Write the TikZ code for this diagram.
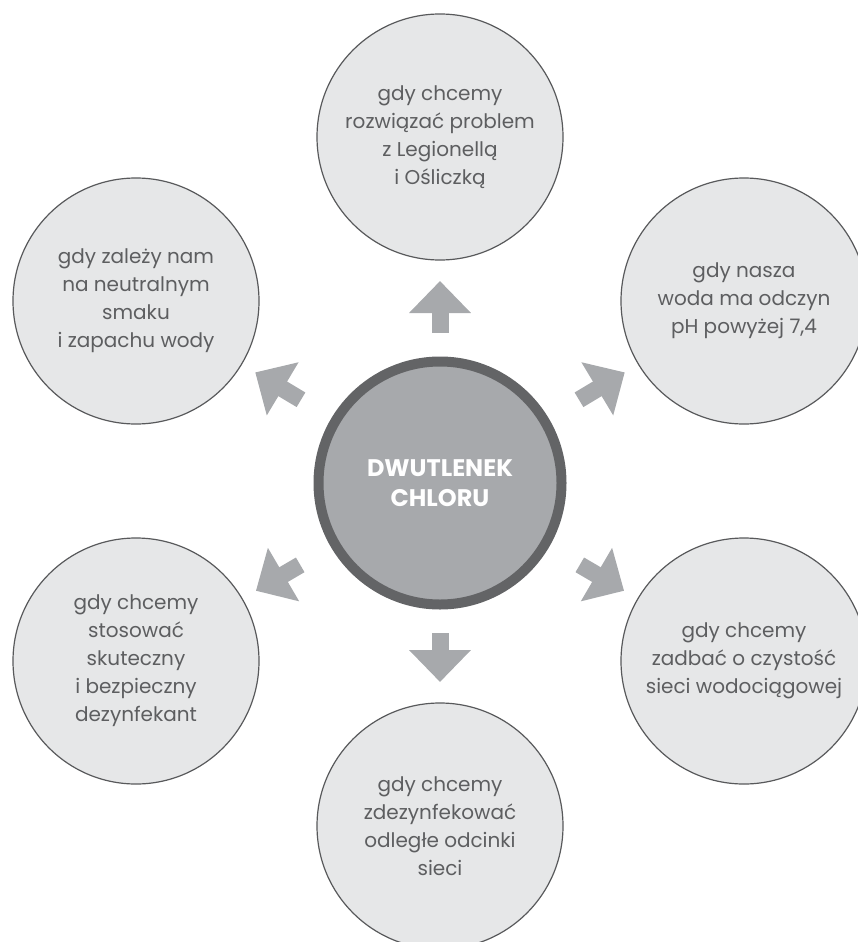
\documentclass[tikz,border=0pt]{standalone}
\usepackage{fontspec}
\setmainfont{Poppins}
\usetikzlibrary{arrows.meta}

\definecolor{leafgray}{HTML}{E6E7E8}
\definecolor{rimgray}{HTML}{58595B}
\definecolor{pointgray}{HTML}{A7A9AC}
\definecolor{ringgray}{HTML}{636466}
\definecolor{inkgray}{HTML}{5D5E60}

\tikzset{
	leaf/.style={circle, minimum size=246pt, inner sep=0pt, fill=leafgray, draw=rimgray, line width=1.2pt, align=center, text=inkgray, font=\fontsize{20}{28}\selectfont},
	hub/.style={circle, minimum size=243pt, inner sep=0pt, fill=pointgray, draw=ringgray, line width=10pt, align=center, text=white, font=\bfseries\fontsize{24}{30}\selectfont},
	pointer/.style={pointgray, line width=17pt, -{Triangle[length=32pt,width=60pt]}},
}

\begin{document}
\begin{tikzpicture}[x=1pt,y=-1pt]
		\useasboundingbox (0,0) rectangle (857,942);
		\node[hub] (chlor) at (440,483) {DWUTLENEK\\CHLORU};
		\node[leaf] (legion) at (440,137) {gdy chcemy\\rozwiązać problem\\z Legionellą\\i Ośliczką};
		\node[leaf] (smak) at (136,301) {gdy zależy nam\\na neutralnym\\smaku\\i zapachu wody};
		\node[leaf] (odczyn) at (744,301) {gdy nasza\\woda ma odczyn\\pH powyżej 7,4};
		\node[leaf] (dezyn) at (136,661) {gdy chcemy\\stosować\\skuteczny\\i bezpieczny\\dezynfekant};
		\node[leaf] (czystosc) at (744,661) {gdy chcemy\\zadbać o czystość\\sieci wodociągowej};
		\node[leaf] (odcinki) at (440,826) {gdy chcemy\\zdezynfekować\\odległe odcinki\\sieci};
		% strzalki od srodka
		\draw[pointer, shorten <=150pt, shorten >=144pt] (chlor.center) -- (legion.center);
		\draw[pointer, shorten <=150pt, shorten >=144pt] (chlor.center) -- (odcinki.center);
		\draw[pointer, shorten <=162pt, shorten >=139pt] (chlor.center) -- (smak.center);
		\draw[pointer, shorten <=162pt, shorten >=139pt] (chlor.center) -- (odczyn.center);
		\draw[pointer, shorten <=162pt, shorten >=139pt] (chlor.center) -- (dezyn.center);
		\draw[pointer, shorten <=162pt, shorten >=139pt] (chlor.center) -- (czystosc.center);
	\end{tikzpicture}
\end{document}
